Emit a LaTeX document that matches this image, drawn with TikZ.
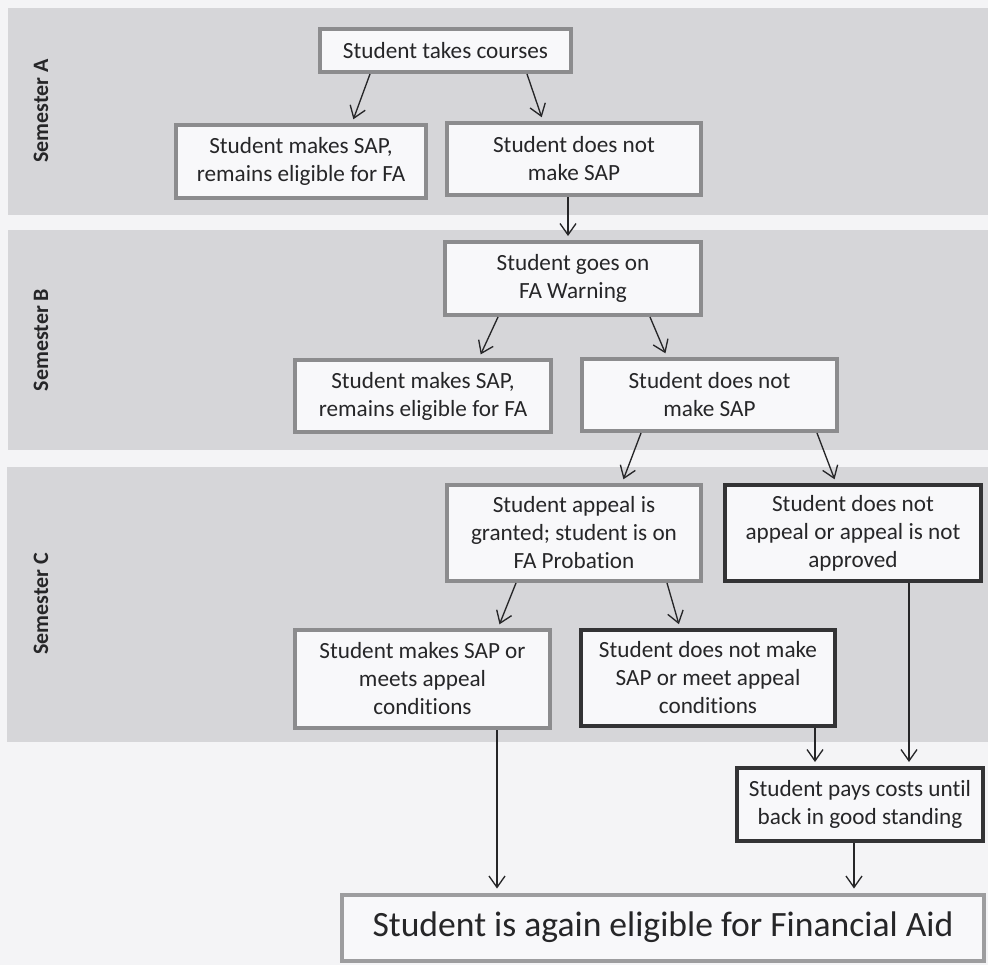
\documentclass[tikz,border=0pt]{standalone}
\usepackage{fontspec}
\setmainfont{Carlito}[Ligatures=NoCommon]
\usetikzlibrary{arrows.meta}
\definecolor{pagebg}{HTML}{F4F4F6}
\definecolor{bandgray}{HTML}{D6D6D9}
\definecolor{boxfill}{HTML}{F8F8FA}
\definecolor{lightborder}{HTML}{8C8C8E}
\definecolor{darkborder}{HTML}{333335}
\definecolor{inkcol}{HTML}{262628}
\tikzset{
  basebox/.style={rectangle, fill=boxfill, line width=3pt, inner sep=0pt, align=center,
    text=inkcol, font=\fontsize{17.4}{21}\selectfont},
  gbox/.style={basebox, draw=lightborder},
  dbox/.style={basebox, draw=darkborder},
  arr/.style={draw=inkcol, line width=1pt, shorten >=3pt,
    -{Straight Barb[length=8.5pt,width=12pt,line width=1pt]}},
  semlabel/.style={rotate=90, text=inkcol, font=\bfseries\fontsize{16.5}{20}\selectfont, inner sep=0pt}
}
\begin{document}
\begin{tikzpicture}[x=0.75pt,y=-0.75pt]
\useasboundingbox (0,0) rectangle (988,965);
\fill[pagebg] (0,0) rectangle (988,965);
% semester bands
\fill[bandgray] (8,8) rectangle (988,215);
\fill[bandgray] (8,230) rectangle (988,450);
\fill[bandgray] (7,467) rectangle (988,742);
\node[semlabel] (semA) at (41,111) {Semester A};
\node[semlabel] (semB) at (41,340) {Semester B};
\node[semlabel] (semC) at (41,604) {Semester C};
% boxes
\node[gbox, minimum width=188.25pt, minimum height=32.25pt] (b1) at (445.5,50.5) {Student takes courses};
\node[gbox, minimum width=187.5pt, minimum height=54.75pt] (b2) at (301,161.5) {Student makes SAP,\\remains eligible for FA};
\node[gbox, minimum width=190.5pt, minimum height=54pt] (b3) at (574,159) {Student does not\\make SAP};
\node[gbox, minimum width=192pt, minimum height=54.75pt] (b4) at (573,278.5) {Student goes on\\FA Warning};
\node[gbox, minimum width=192pt, minimum height=54pt] (b5) at (423,396) {Student makes SAP,\\remains eligible for FA};
\node[gbox, minimum width=191.25pt, minimum height=54pt] (b6) at (709.5,395) {Student does not\\make SAP};
\node[gbox, minimum width=190.5pt, minimum height=72pt] (b7) at (574,533) {Student appeal is\\granted; student is on\\FA Probation};
\node[dbox, minimum width=192pt, minimum height=72pt] (b8) at (853,533) {Student does not\\appeal or appeal is not\\approved};
\node[gbox, minimum width=191.25pt, minimum height=73.5pt] (b9) at (422.5,679) {Student makes SAP or\\meets appeal\\conditions};
\node[dbox, minimum width=190.5pt, minimum height=72pt] (b10) at (708,678) {Student does not make\\SAP or meet appeal\\conditions};
\node[dbox, minimum width=184.5pt, minimum height=54.75pt] (b11) at (860,804.5) {Student pays costs until\\back in good standing};
\node[gbox, draw=lightborder!85, minimum width=481.5pt, minimum height=49.5pt,
      font=\fontsize{26.7}{32}\selectfont] (b12) at (663,927.5) {Student is again eligible for Financial Aid};
% connectors
\draw[arr] (b1.south -| 370,0) -- (b2.north -| 352,0);
\draw[arr] (b1.south -| 527,0) -- (b3.north -| 543,0);
\draw[arr] (b3.south -| 568,0) -- (b4.north -| 568,0);
\draw[arr] (b4.south -| 498,0) -- (b5.north -| 479,0);
\draw[arr] (b4.south -| 650,0) -- (b6.north -| 667,0);
\draw[arr] (b6.south -| 641,0) -- (b7.north -| 622,0);
\draw[arr] (b6.south -| 817,0) -- (b8.north -| 836,0);
\draw[arr] (b7.south -| 516,0) -- (b9.north -| 498,0);
\draw[arr] (b7.south -| 667,0) -- (b10.north -| 680,0);
\draw[arr] (b10.south -| 815,0) -- (b11.north -| 815,0);
\draw[arr] (b8.south -| 909,0) -- (b11.north -| 909,0);
\draw[arr] (b9.south -| 497,0) -- (b12.north -| 497,0);
\draw[arr] (b11.south -| 854,0) -- (b12.north -| 854,0);
\end{tikzpicture}
\end{document}
